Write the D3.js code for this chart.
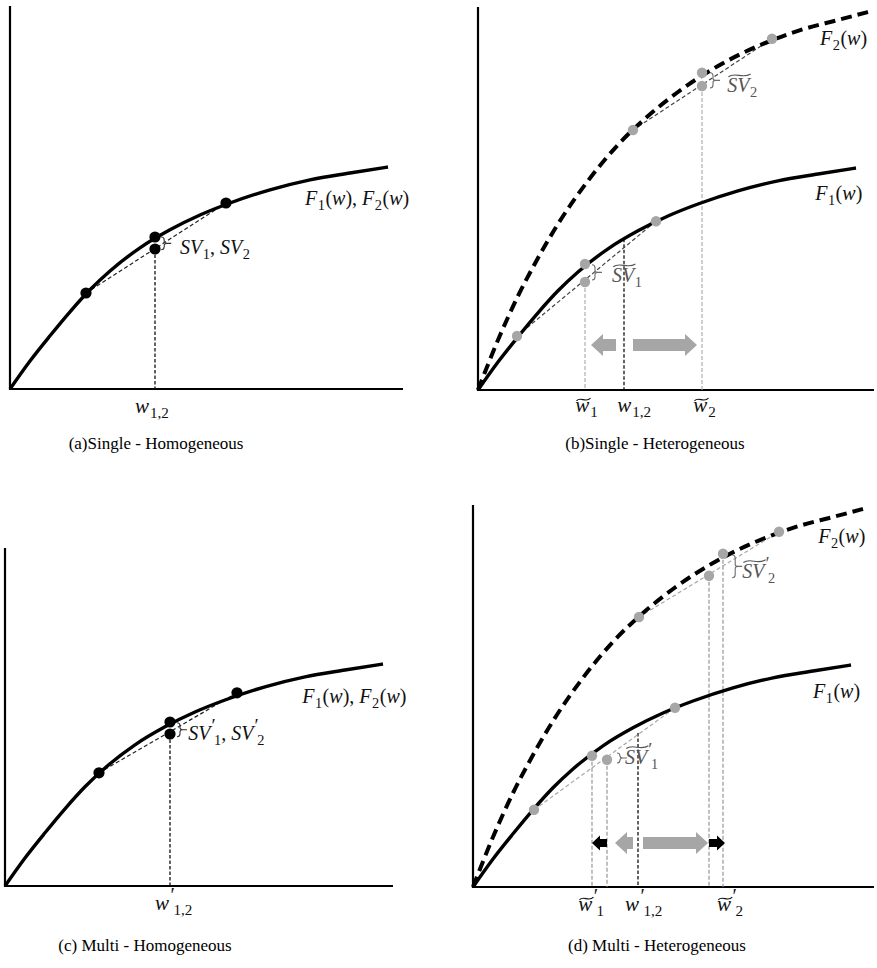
<!DOCTYPE html>
<html><head><meta charset="utf-8">
<script src="https://cdn.jsdelivr.net/npm/d3@7"></script>
<style>body{margin:0;background:#fff}</style>
</head><body>
<svg id="c" width="877" height="968"></svg>
<script>
// ---------------- data (abstract units) ----------------
const curveF_x  = [0,0.5,1,1.5,2,2.5,3.25,4,4.75,5.5,6.5,7.5,8.5,9.45];
const curveF_y  = [0,0.7,1.33,1.93,2.48,2.95,3.53,3.98,4.35,4.65,4.98,5.23,5.4,5.55];
const curveF2_x = [0,0.5,1,1.5,2,2.75,3.5,4.25,5,6,7,8,9,9.75];
const curveF2_y = [0,1.25,2.35,3.3,4.15,5.23,6.13,6.85,7.45,8.1,8.6,8.98,9.25,9.45];

const pointsA    = [[1.9,2.4],[3.625,3.8],[3.625,3.5],[5.4,4.65]];
const pointsC    = [[2.35,2.83],[4.125,4.1],[4.125,3.8],[5.8,4.83]];
const pointsB_F1 = [[0.975,1.35],[2.675,3.15],[2.675,2.7],[4.45,4.22]];
const pointsB_F2 = [[3.875,6.5],[5.6,7.93],[5.6,7.6],[7.35,8.78]];
const pointsD_F1 = [[1.525,1.93],[2.975,3.28],[3.35,3.18],[5.05,4.48]];
const pointsD_F2 = [[4.15,6.75],[5.9,7.78],[6.25,8.33],[7.65,8.88]];

// vertical guide lines: [x, top y, kind]
const vertA = [[3.625,3.5,'k']];
const vertB = [[2.675,2.7,'g'],[3.65,3.78,'k'],[5.6,7.6,'g']];
const vertC = [[4.125,3.8,'k']];
const vertD = [[2.975,3.28,'g'],[3.35,3.18,'g'],[4.125,3.85,'k'],[5.9,7.78,'g'],[6.25,8.33,'g']];

// arrows: [tail x, tip x, y, kind]
const arrowsB = [[3.45,2.825,1.125,'g'],[3.875,5.475,1.125,'g']];
const arrowsD = [[3.35,2.975,1.1,'k'],[4.0,3.55,1.1,'g'],[4.25,5.875,1.1,'g'],[5.9,6.3,1.1,'k']];

// axis labels: [x, tilde, prime, subscript]
const ticksA = [[3.125,false,false,'1,2']];
const ticksB = [[2.43,true,false,'1'],[3.48,false,false,'1,2'],[5.38,true,false,'2']];
const ticksC = [[3.75,false,true,'1,2']];
const ticksD = [[2.63,true,true,'1'],[3.8,false,true,'1,2'],[6.1,true,true,'2']];

// curve labels: [x, y, subscripts]
const curveLabelsA = [[7.375,4.6,['1','2']]];
const curveLabelsB = [[8.55,8.63,['2']],[8.43,4.75,['1']]];
const curveLabelsC = [[7.43,4.58,['1','2']]];
const curveLabelsD = [[8.63,8.6,['2']],[8.5,4.73,['1']]];

// SV brackets: [x, yTop, yBot, textX, textY, tilde, prime, subs]
const svA = [[3.78,3.8,3.48,4.25,3.38,false,false,['1','2']]];
const svB = [[5.8,7.93,7.55,6.23,7.45,true,false,['2']],[2.85,3.13,2.75,3.35,2.7,true,false,['1']]];
const svC = [[4.3,4.08,3.73,4.58,3.65,false,true,['1','2']]];
const svD = [[6.48,8.3,7.73,6.73,7.73,true,true,['2']],[3.6,3.35,3.1,3.8,3.08,true,true,['1']]];

const captions = ['(a)Single - Homogeneous','(b)Single - Heterogeneous','(c) Multi - Homogeneous','(d) Multi - Heterogeneous'];

// ---------------- layout ----------------
const PX = 40; // px per unit
const panels = [
  {ox:10, oy:389, xEnd:403, yTop:6, hetero:false, multi:false, pts:[pointsA], vert:vertA, arrows:[], ticks:ticksA, clabels:curveLabelsA, sv:svA, cap:captions[0], capX:156, capY:449, tickDy:24},
  {ox:478, oy:390, xEnd:874, yTop:7, hetero:true, multi:false, pts:[pointsB_F1,pointsB_F2], vert:vertB, arrows:arrowsB, ticks:ticksB, clabels:curveLabelsB, sv:svB, cap:captions[1], capX:655, capY:449, tickDy:22},
  {ox:5, oy:886, xEnd:393, yTop:548, hetero:false, multi:true, pts:[pointsC], vert:vertC, arrows:[], ticks:ticksC, clabels:curveLabelsC, sv:svC, cap:captions[2], capX:145, capY:951, tickDy:24},
  {ox:473, oy:887, xEnd:874, yTop:505, hetero:true, multi:true, pts:[pointsD_F1,pointsD_F2], vert:vertD, arrows:arrowsD, ticks:ticksD, clabels:curveLabelsD, sv:svD, cap:captions[3], capX:657, capY:951, tickDy:24}
];

const GRAYPT = '#a6a6a6', GRAYLN = '#a8a8a8';
const MATH = "'Liberation Serif','DejaVu Serif',serif";
const TEXT = "'Liberation Serif','Times New Roman',serif";
const svg = d3.select('#c');

// one <text> element per math label, built from tspans
function mathText(g, x, y, pieces, size, color) {
  const t = g.append('text').attr('x', x).attr('y', y)
    .attr('font-family', MATH).attr('font-size', size).attr('fill', color);
  let cx = x, base = 0, pend = 0;
  const tildes = [];
  pieces.forEach(p => {
    if (p.primeSub) {
      // prime raised, subscript follows right after it
      const pr = t.append('tspan').attr('font-size', size*0.95).attr('font-style', 'normal')
        .attr('dx', pend + 0.5).attr('dy', -size*0.4 - base).text('′');
      cx += pend + 0.5; base = -size*0.4;
      cx += pr.node().getComputedTextLength();
      const sb = t.append('tspan').attr('font-size', size*0.72).attr('font-style', 'normal')
        .attr('dx', -1.5).attr('dy', size*0.24 - base).text(p.t);
      cx -= 1.5; base = size*0.24;
      cx += sb.node().getComputedTextLength();
      pend = p.kern || 0;
      return;
    }
    const fs = p.sub ? size*0.72 : size;
    const target = p.sub ? size*0.24 : 0;
    const ts = t.append('tspan').attr('font-size', fs).attr('font-style', p.it ? 'italic' : 'normal')
      .attr('dx', pend).attr('dy', target - base).text(p.t);
    cx += pend; base = target;
    const w = ts.node().getComputedTextLength();
    if (p.tilde) tildes.push([cx, w, p.tall]);
    cx += w;
    pend = p.kern || 0;
  });
  tildes.forEach(([x0r, w, tall]) => {
    const top = y + (tall ? -size*0.84 : -size*0.6);
    const x0 = x0r + size*0.06, x1 = x0r + w + size*0.06, mw = x1 - x0;
    g.append('path')
      .attr('d', `M${x0},${top+1.5} C${x0+mw*0.3},${top-3.5} ${x0+mw*0.65},${top+4} ${x1},${top-1.2}`)
      .attr('fill','none').attr('stroke', color).attr('stroke-width', 1.1);
  });
  return t;
}

function wPieces(tilde, prime, sub) {
  const a = [{t:'w', it:true, tilde:tilde, kern:1}];
  a.push(prime ? {t:sub, primeSub:true} : {t:sub, sub:true});
  return a;
}
function fPieces(subs) {
  const a = [];
  subs.forEach((s, i) => {
    if (i > 0) a.push({t:',\u00a0'});
    a.push({t:'F', it:true, kern:0.5}, {t:s, sub:true, kern:0.5}, {t:'('}, {t:'w', it:true}, {t:')'});
  });
  return a;
}
function svPieces(tilde, prime, subs) {
  const a = [];
  subs.forEach((s, i) => {
    if (i > 0) a.push({t:',\u00a0'});
    a.push({t:'SV', it:true, tilde:tilde, tall:true, kern:0.5});
    a.push(prime ? {t:s, primeSub:true} : {t:s, sub:true});
  });
  return a;
}

panels.forEach(P => {
  const g = svg.append('g');
  const x = d3.scaleLinear().domain([0, 10]).range([P.ox, P.ox + 10*PX]);
  const y = d3.scaleLinear().domain([0, 10]).range([P.oy, P.oy - 10*PX]);
  const line = d3.line().x(d => x(d[0])).y(d => y(d[1])).curve(d3.curveMonotoneX);

  // axes
  g.append('line').attr('x1', x(0)).attr('y1', y(0)).attr('x2', P.xEnd).attr('y2', y(0))
    .attr('stroke', '#000').attr('stroke-width', 2.2);
  g.append('line').attr('x1', x(0)).attr('y1', y(0) + 1).attr('x2', x(0)).attr('y2', P.yTop)
    .attr('stroke', '#000').attr('stroke-width', 2.2);

  const gray = P.hetero;
  const chordColor = P.hetero ? (P.multi ? GRAYLN : '#444') : '#222';
  const vertGray = P.multi ? '#8c8c8c' : GRAYLN;

  // vertical guides
  P.vert.forEach(v => {
    g.append('line').attr('x1', x(v[0])).attr('x2', x(v[0])).attr('y1', y(v[1])).attr('y2', y(0))
      .attr('stroke', v[2] === 'k' ? '#111' : vertGray).attr('stroke-width', v[2] === 'k' ? 1.3 : 1.1)
      .attr('stroke-dasharray', v[2] === 'k' ? '3.5,2' : '4,2');
  });

  // chords
  P.pts.forEach(pts => {
    const a = pts[0], b = pts[pts.length - 1];
    g.append('line').attr('x1', x(a[0])).attr('y1', y(a[1])).attr('x2', x(b[0])).attr('y2', y(b[1]))
      .attr('stroke', chordColor).attr('stroke-width', 1.2).attr('stroke-dasharray', '4,2.5');
  });

  // curves
  const fData = curveF_x.map((v, i) => [v, curveF_y[i]]);
  g.append('path').attr('d', line(fData)).attr('fill', 'none').attr('stroke', '#000').attr('stroke-width', 3.4);
  if (P.hetero) {
    const f2Data = curveF2_x.map((v, i) => [v, curveF2_y[i]]);
    g.append('path').attr('d', line(f2Data)).attr('fill', 'none').attr('stroke', '#000')
      .attr('stroke-width', 4).attr('stroke-dasharray', '11,6');
  }

  // points
  P.pts.forEach(pts => {
    g.selectAll(null).data(pts).enter().append('circle')
      .attr('cx', d => x(d[0])).attr('cy', d => y(d[1])).attr('r', gray ? 5.2 : 5.6)
      .attr('fill', gray ? GRAYPT : '#000');
  });

  // arrows
  P.arrows.forEach(a => {
    const tail = x(a[0]), tip = x(a[1]), cy = y(a[2]);
    const s = Math.sign(tip - tail);
    const big = a[3] === 'g';
    const hl = big ? 12 : 8, sh = big ? 12 : 8, hh = big ? 22 : 15;
    const hb = tip - s*hl;
    const ptsA = [[tail, cy - sh/2], [hb, cy - sh/2], [hb, cy - hh/2], [tip, cy], [hb, cy + hh/2], [hb, cy + sh/2], [tail, cy + sh/2]];
    g.append('polygon').attr('points', ptsA.map(p => p.join(',')).join(' '))
      .attr('fill', big ? GRAYPT : '#000');
  });

  // SV brackets + labels
  P.sv.forEach(b => {
    const bx = x(b[0]), t = y(b[1]), bt = y(b[2]), m = (t + bt)/2;
    const col = P.hetero ? '#6e6e6e' : '#333';
    g.append('path')
      .attr('d', `M${bx},${t} Q${bx+3},${t} ${bx+3},${t+3} L${bx+3},${m-2} Q${bx+3},${m} ${bx+6},${m} Q${bx+3},${m} ${bx+3},${m+2} L${bx+3},${bt-3} Q${bx+3},${bt} ${bx},${bt} M${bx+6},${m} L${bx+10},${m}`)
      .attr('fill', 'none').attr('stroke', col).attr('stroke-width', 1.1);
    mathText(g, x(b[3]), y(b[4]), svPieces(b[5], b[6], b[7]), 20, P.hetero ? '#555' : '#111');
  });

  // curve labels
  P.clabels.forEach(c => {
    mathText(g, x(c[0]), y(c[1]), fPieces(c[2]), 20, '#111');
  });

  // axis labels
  P.ticks.forEach(tk => {
    mathText(g, x(tk[0]), y(0) + P.tickDy, wPieces(tk[1], tk[2], tk[3]), 21, '#111');
  });

  // caption
  svg.append('text').attr('x', P.capX).attr('y', P.capY).attr('text-anchor', 'middle')
    .attr('font-family', TEXT).attr('font-size', 17).attr('fill', '#000').text(P.cap);
});
</script>
</body></html>
